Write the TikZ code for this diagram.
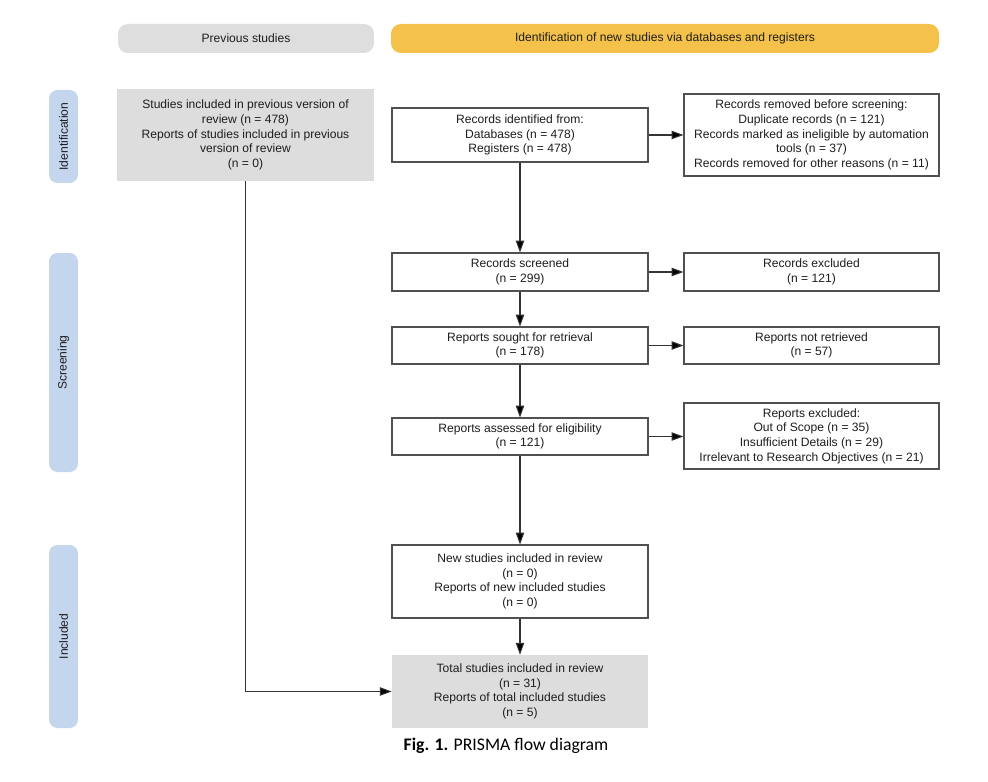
\documentclass[tikz,border=0pt]{standalone}
\usepackage{fontspec}
\setmainfont{Liberation Sans}
\newfontfamily\capfont{Carlito}
\usetikzlibrary{arrows.meta,positioning}
\definecolor{ink}{HTML}{1E1E1E}
\definecolor{edge}{HTML}{505050}
\definecolor{wire}{HTML}{333333}
\definecolor{greyhead}{HTML}{DEDEDE}
\definecolor{greybox}{HTML}{DDDDDD}
\definecolor{amber}{HTML}{F4C14B}
\definecolor{phase}{HTML}{C4D5EE}
\tikzset{
  txt/.style={font=\fontsize{8.6}{10.4}\selectfont,text=ink,align=center,inner sep=2pt},
  head/.style={txt,fill=#1,rounded corners=7pt,minimum height=0.725cm},
  lane/.style={txt,fill=phase,rounded corners=6pt,rotate=90,minimum height=0.725cm},
  box/.style={txt,draw=edge,line width=0.75pt,fill=white,minimum width=6.4cm},
  sidebox/.style={txt,draw=edge,line width=0.75pt,fill=white,minimum width=6.375cm},
  greyblock/.style={txt,fill=greybox,minimum width=6.4cm},
  flow/.style={-{Triangle[length=8.5pt,width=6pt,fill=black]},line width=0.75pt,draw=wire}
}
\begin{document}
\begin{tikzpicture}
  \useasboundingbox (0,0) rectangle (24.7,-19.55);
  \node[head=greyhead,minimum width=6.4cm] (hprev) at (6.15,-0.9625) {Previous studies};
  \node[head=amber,minimum width=13.7cm] (hnew) at (16.625,-0.9625) {Identification of new studies via databases and registers};
  \node[lane,minimum width=2.325cm] (pid) at (1.5875,-3.4125) {Identification};
  \node[lane,minimum width=5.475cm] (pscr) at (1.5875,-9.0625) {Screening};
  \node[lane,minimum width=4.575cm] (pinc) at (1.5875,-15.9125) {Included};
  \node[greyblock,minimum width=6.425cm,minimum height=2.3cm] (prev) at (6.1375,-3.375)
    {Studies included in previous version of\\review (n = 478)\\Reports of studies included in previous\\version of review\\(n = 0)};
  \node[box,minimum height=1.35cm] (ident) at (13,-3.375) {Records identified from:\\Databases (n = 478)\\Registers (n = 478)};
  \node[sidebox,minimum height=2.05cm] (removed) at (20.2875,-3.375)
    {Records removed before screening:\\Duplicate records (n = 121)\\Records marked as ineligible by automation\\tools (n = 37)\\Records removed for other reasons (n = 11)};
  \node[box,minimum height=0.95cm] (screened) at (13,-6.8) {Records screened\\(n = 299)};
  \node[sidebox,minimum height=0.95cm] (excluded) at (20.2875,-6.8) {Records excluded\\(n = 121)};
  \node[box,minimum height=0.925cm] (sought) at (13,-8.6375) {Reports sought for retrieval\\(n = 178)};
  \node[sidebox,minimum height=0.925cm] (notret) at (20.2875,-8.6375) {Reports not retrieved\\(n = 57)};
  \node[box,minimum height=0.925cm] (assessed) at (13,-10.9125) {Reports assessed for eligibility\\(n = 121)};
  \node[sidebox,minimum height=1.65cm] (repexcl) at (20.2875,-10.9)
    {Reports excluded:\\Out of Scope (n = 35)\\Insufficient Details (n = 29)\\Irrelevant to Research Objectives (n = 21)};
  \node[box,minimum height=1.825cm] (newinc) at (13,-14.5375)
    {New studies included in review\\(n = 0)\\Reports of new included studies\\(n = 0)};
  \node[greyblock,minimum height=1.825cm] (total) at (13,-17.2875)
    {Total studies included in review\\(n = 31)\\Reports of total included studies\\(n = 5)};
  \node[font=\capfont\fontsize{12.6}{14}\selectfont] (cap) at (12.65,-18.65) {\textbf{Fig. 1.} PRISMA flow diagram};
  \draw[flow] (ident) -- (removed);
  \draw[flow] (ident) -- (screened);
  \draw[flow] (screened) -- (excluded);
  \draw[flow] (screened) -- (sought);
  \draw[flow] (sought) -- (notret);
  \draw[flow] (sought) -- (assessed);
  \draw[flow] (assessed) -- (repexcl.west |- assessed);
  \draw[flow] (assessed) -- (newinc);
  \draw[flow] (newinc) -- (total);
  \draw[flow] (prev.south) |- (total.west);
\end{tikzpicture}
\end{document}
